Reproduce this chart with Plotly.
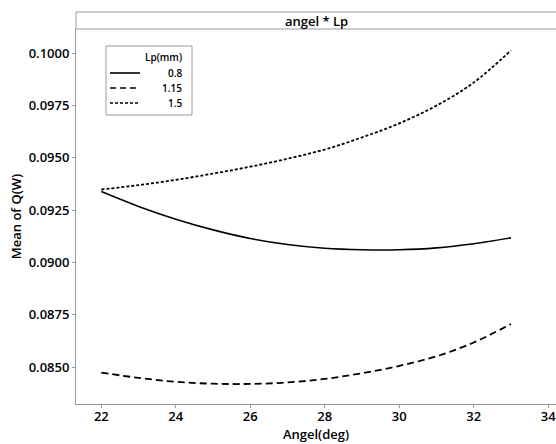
import plotly.graph_objects as go

angle = [22, 23, 24, 25, 26, 27, 28, 29, 30, 31, 32, 33]
q_lp08 = [0.09339, 0.09268, 0.09207, 0.09156, 0.09115, 0.09086, 0.09068, 0.09061, 0.09061, 0.09070, 0.09090, 0.09118]
q_lp115 = [0.08474, 0.08449, 0.08430, 0.08421, 0.08420, 0.08427, 0.08444, 0.08471, 0.08506, 0.08552, 0.08618, 0.08706]
q_lp15 = [0.09349, 0.09370, 0.09395, 0.09425, 0.09458, 0.09496, 0.09540, 0.09598, 0.09665, 0.09750, 0.09860, 0.10014]
series_names = ["0.8", "1.15", "1.5"]
x_ticks = [22, 24, 26, 28, 30, 32, 34]

FONT = "Open Sans"
W, H = 556, 444
ml, mr, mt, mb = 76, 0, 29, 40
plot_w = W - ml - mr
plot_h = H - mt - mb


def px(x):
    return (x - ml) / plot_w


def py(y):
    return (H - mb - y) / plot_h


fig = go.Figure()
dashes = ["solid", "7px,4px", "3px,2px"]
widths = [1.6, 1.8, 1.8]
for name, vals, d, w in zip(series_names, [q_lp08, q_lp115, q_lp15], dashes, widths):
    fig.add_trace(go.Scatter(x=angle, y=vals, mode="lines", name=name, line_shape="spline",
                             line=dict(color="black", dash=d, width=w)))

axis_common = dict(showline=True, linecolor="#9a9a9a", linewidth=1, ticks="outside", ticklen=3,
                   tickcolor="#9a9a9a", showgrid=False, zeroline=False, mirror=False, automargin=False,
                   ticklabeloverflow="allow",
                   tickfont=dict(family=FONT, size=13, color="black", weight=600),
                   title_font=dict(family=FONT, size=13, color="black", weight=600))

shapes = [dict(type="rect", xref="paper", yref="paper", x0=0, x1=1.01, y0=1, y1=1 + 17 / plot_h,
               line=dict(color="#9a9a9a", width=1), fillcolor="white", layer="above"),
          dict(type="rect", xref="paper", yref="paper", x0=px(106), x1=px(192), y0=py(115), y1=py(46),
               line=dict(color="#9a9a9a", width=1), fillcolor="white", layer="above")]
annotations = [dict(text="angel * Lp", xref="paper", yref="paper", x=0.5, y=1 + 8.5 / plot_h,
                    xanchor="center", yanchor="middle", showarrow=False,
                    font=dict(family=FONT, size=13, color="black", weight=600)),
               dict(text="Lp(mm)", xref="paper", yref="paper", x=px(184), y=py(57),
                    xanchor="right", yanchor="middle", showarrow=False,
                    font=dict(family=FONT, size=10, color="black", weight=600))]
legend_y = [73, 88, 103]
legend_dash = ["solid", "6px,4px", "3px,2px"]
for name, ly, d in zip(series_names, legend_y, legend_dash):
    shapes.append(dict(type="line", xref="paper", yref="paper", x0=px(110), x1=px(140), y0=py(ly), y1=py(ly),
                       line=dict(color="black", width=1.6, dash=d), layer="above"))
    annotations.append(dict(text=name, xref="paper", yref="paper", x=px(184), y=py(ly),
                            xanchor="right", yanchor="middle", showarrow=False,
                            font=dict(family=FONT, size=10, color="black", weight=600)))

fig.update_layout(
    width=W, height=H,
    margin=dict(l=ml, r=mr, t=mt, b=mb, pad=0),
    paper_bgcolor="white", plot_bgcolor="white",
    xaxis=dict(range=[21.32, 34.21], tickvals=x_ticks, ticklabelstandoff=-3,
               title=dict(text="Angel(deg)", standoff=0), **axis_common),
    yaxis=dict(range=[0.08324, 0.10116], tick0=0.085, dtick=0.0025, tickformat=".4f",
               title=dict(text="Mean of Q(W)", standoff=4), **axis_common),
    showlegend=False,
    shapes=shapes,
    annotations=annotations,
)

fig.write_html("out.html", config={"displayModeBar": False},
               post_script="document.body.style.margin='0';document.body.style.overflow='hidden';")
